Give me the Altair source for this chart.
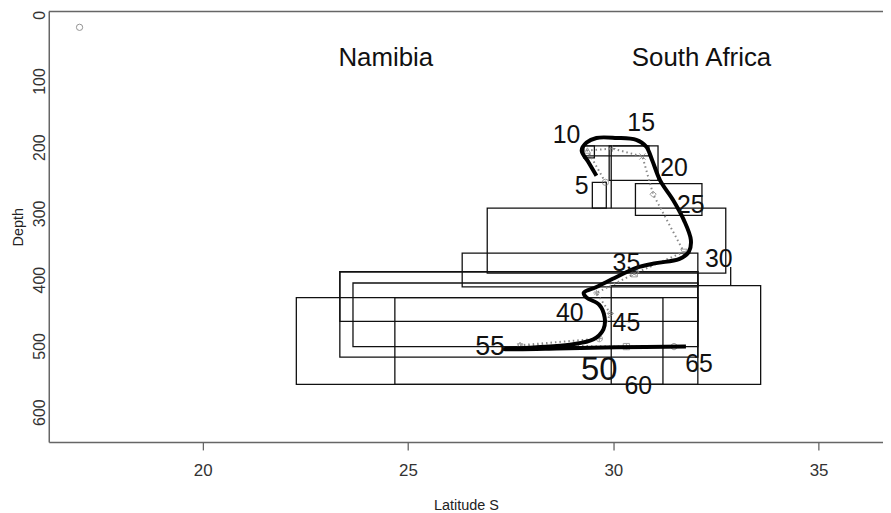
import altair as alt
import pandas as pd

# ---------------- data ----------------
x_ticks = [20, 25, 30, 35]
y_ticks = [0, 100, 200, 300, 400, 500, 600]

# rectangles (latitude range x depth range)
rect_lat_min = [29.28, 29.28, 29.90, 29.49, 30.54, 26.93, 26.32, 23.34, 23.34, 23.66, 22.28, 24.68, 29.95, 32.86, 29.95]
rect_lat_max = [29.54, 30.87, 31.09, 29.83, 32.16, 32.74, 32.06, 32.06, 32.06, 32.06, 31.21, 32.06, 33.59, 32.86, 29.95]
rect_dep_min = [198, 198, 198, 253, 255, 292, 360, 388, 388, 405, 427, 427, 409, 381, 198]
rect_dep_max = [216, 213, 250, 292, 303, 390, 411, 517, 463, 501, 558, 558, 558, 409, 292]

# numbered points (markers)
point_labels = ["5", "10", "15", "20", "25", "30", "35", "40", "45", "50", "55", "60", "65"]
point_lat = [29.81, 29.37, 29.98, 30.71, 30.97, 31.72, 30.51, 29.59, 29.93, 29.66, 27.73, 30.32, 31.48]
point_dep = [253, 205, 202, 214, 271, 358, 391, 420, 451, 489, 499, 501, 501]

# number label positions
label_lat = [29.23, 28.86, 30.68, 31.48, 31.89, 32.57, 30.32, 28.94, 30.32, 29.66, 27.00, 30.61, 32.09]
label_dep = [259, 181, 163, 232, 288, 369, 375, 450, 465, 537, 502, 561, 528]

# smoothed thick curve
curve_lat = [29.59, 29.40, 29.23, 29.35, 29.59, 30.08, 30.56, 30.80, 30.95, 31.14, 31.46, 31.72,
             31.89, 31.84, 31.60, 31.04, 30.56, 30.08, 29.59, 29.28, 29.35, 29.66, 29.79, 29.76,
             29.52, 28.94, 28.14, 27.34, 28.62, 30.08, 31.77]
curve_dep = [243, 223, 205, 193, 186, 186, 189, 199, 220, 250, 280, 310,
             340, 358, 369, 375, 382, 396, 411, 420, 427, 438, 457, 475,
             490, 498, 502, 505, 504, 502, 501]

# stray point, region names
outlier_lat = [17.0]
outlier_dep = [19]
region_names = ["Namibia", "South Africa"]
region_lat = [24.46, 32.15]
region_dep = [65, 65]

# ---------------- tables ----------------
rects = pd.DataFrame({"lat": rect_lat_min, "lat2": rect_lat_max, "dep": rect_dep_min, "dep2": rect_dep_max})
points = pd.DataFrame({"label": point_labels, "lat": point_lat, "dep": point_dep,
                       "i": list(range(len(point_labels)))})
labels = pd.DataFrame({"label": point_labels, "lat": label_lat, "dep": label_dep})
curve = pd.DataFrame({"lat": curve_lat, "dep": curve_dep, "i": list(range(len(curve_lat)))})
outlier = pd.DataFrame({"lat": outlier_lat, "dep": outlier_dep})
regions = pd.DataFrame({"name": region_names, "lat": region_lat, "dep": region_dep})

W, H = 839, 433
FONT = "Liberation Sans"

xs = alt.Scale(domain=[16.25, 36.57], nice=False, zero=False)
ys = alt.Scale(domain=[-5, 645], reverse=True, nice=False, zero=False)

x_axis = alt.Axis(values=x_ticks, title="Latitude S", tickSize=8, tickWidth=1.3,
                  labelFontSize=17, labelPadding=13, titleFontSize=14.5, titlePadding=20,
                  domainWidth=1.5, labelFlush=False, grid=False)
y_axis = alt.Axis(values=y_ticks, title="Depth", ticks=False, tickSize=0,
                  labelAngle=270, labelAlign="center", labelBaseline="bottom",
                  labelFontSize=16, labelPadding=1, titleFontSize=14.5, titlePadding=6,
                  domainWidth=1.5, labelFlush=False, grid=False)


def X(field="lat"):
    return alt.X(f"{field}:Q", scale=xs, axis=x_axis)


def Y(field="dep"):
    return alt.Y(f"{field}:Q", scale=ys, axis=y_axis)


rect_layer = alt.Chart(rects).mark_rect(fillOpacity=0, stroke="#111", strokeWidth=1.3).encode(
    x=X(), x2="lat2:Q", y=Y(), y2="dep2:Q")

top_rule = alt.Chart(outlier).mark_rule(color="#666", strokeWidth=1.5).encode(
    x=alt.value(0), x2=alt.value(W), y=alt.value(0))

dotted = alt.Chart(points).mark_line(color="#888", strokeWidth=2, strokeDash=[1.5, 3]).encode(
    x=X(), y=Y(), order="i:Q")

shape_paths = [
    "circle",
    "triangle-up",
    "M-1,0L1,0M0,-1L0,1",
    "M-1,-1L1,1M-1,1L1,-1",
    "diamond",
    "triangle-down",
    "M-1,-1H1V1H-1ZM-1,-1L1,1M-1,1L1,-1",
    "M-1,0L1,0M0,-1L0,1M-0.7,-0.7L0.7,0.7M-0.7,0.7L0.7,-0.7",
    "M0,-1L1,0L0,1L-1,0ZM-1,0L1,0M0,-1L0,1",
    "M-1,0A1,1 0 1,0 1,0A1,1 0 1,0 -1,0ZM-1,0L1,0M0,-1L0,1",
    "M0,-1L0.87,0.5L-0.87,0.5ZM0,1L0.87,-0.5L-0.87,-0.5Z",
    "M-1,-1H1V1H-1ZM-1,0L1,0M0,-1L0,1",
    "M-1,0A1,1 0 1,0 1,0A1,1 0 1,0 -1,0ZM-0.7,-0.7L0.7,0.7M-0.7,0.7L0.7,-0.7",
]

markers = alt.Chart(points).mark_point(filled=False, color="#777", size=40, strokeWidth=1).encode(
    x=X(), y=Y(),
    shape=alt.Shape("label:N", scale=alt.Scale(domain=point_labels, range=shape_paths), legend=None))

thick = alt.Chart(curve).mark_line(color="black", strokeWidth=4, interpolate="catmull-rom").encode(
    x=X(), y=Y(), order="i:Q")

outlier_layer = alt.Chart(outlier).mark_point(shape="circle", filled=False, color="#666", size=40,
                                              strokeWidth=1).encode(x=X(), y=Y())

num_text = alt.Chart(labels).mark_text(font=FONT, color="#111", baseline="middle", align="center").encode(
    x=X(), y=Y(), text="label:N",
    size=alt.when(alt.datum.label == "50").then(alt.value(33))
             .when(alt.datum.label == "55").then(alt.value(27))
             .otherwise(alt.value(25)))

region_text = alt.Chart(regions).mark_text(font=FONT, fontSize=26, color="#111",
                                           baseline="middle", align="center").encode(
    x=X(), y=Y(), text="name:N")

chart = alt.layer(rect_layer, top_rule, dotted, markers, thick, outlier_layer, num_text, region_text).properties(
    width=W, height=H,
    autosize=alt.AutoSizeParams(type="none"),
    padding={"left": 41, "top": 2, "right": 0, "bottom": 72},
).configure_axis(
    labelFont=FONT, titleFont=FONT, domainColor="#666", tickColor="#666",
    labelColor="#333", titleColor="#222", titleFontWeight="normal",
).configure_view(stroke=None)

chart.save("out.html", embed_options={"renderer": "svg", "actions": False})
